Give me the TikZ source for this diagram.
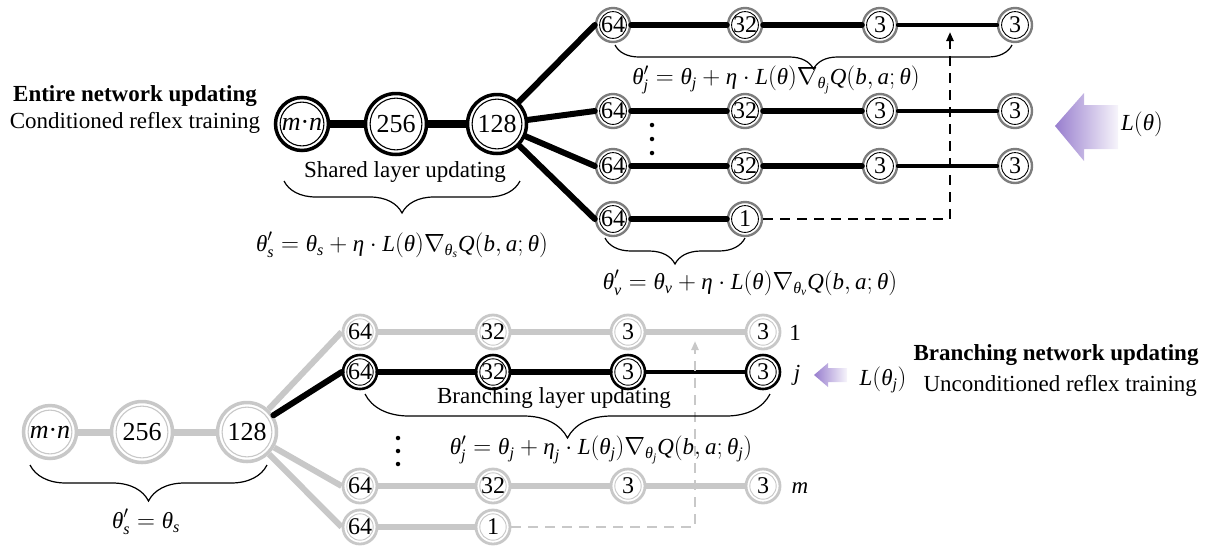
\documentclass[tikz,border=0pt]{standalone}
\usepackage{amsmath}
\usepackage{fontspec}
\setmainfont{Liberation Serif}
\usetikzlibrary{arrows.meta,decorations.pathreplacing,calc}

\definecolor{lgray}{RGB}{200,200,200}
\definecolor{mgray}{RGB}{125,125,125}
\definecolor{lilac}{RGB}{152,126,206}

% italic text letters inside formulas
\newcommand{\mi}[1]{\text{\itshape #1}}
\newcommand{\fsz}{\fontsize{23}{27}\selectfont}
\newcommand{\ffsz}{\fontsize{23}{27}\selectfont}
\newcommand{\nfsz}{\fontsize{24}{28}\selectfont}
\newcommand{\bfsz}{\fontsize{26}{30}\selectfont}

\tikzset{
  cn/.style={circle, inner sep=0pt, fill=white, minimum size=#1, font=\nfsz},
  inring/.style n args={3}{path picture={
      \draw[#1, line width=#2]
        let \p1=($(path picture bounding box.north)-(path picture bounding box.center)$)
        in (path picture bounding box.center) circle[radius=\y1-#3];}},
  tops/.style={cn=#1, font=\bfsz, draw=black, line width=3.5pt, inring={black}{1.1pt}{4.6pt}},
  topb/.style={cn=34, draw=mgray, line width=2.4pt, inring={black}{0.9pt}{3.6pt}},
  bots/.style={cn=#1, font=\bfsz, draw=lgray, line width=3.5pt, inring={lgray}{1.1pt}{4.6pt}},
  botb/.style={cn=34, draw=lgray, line width=2.8pt, inring={lgray}{0.9pt}{3.8pt}},
  botj/.style={cn=34, draw=black, line width=2.6pt, inring={black}{0.9pt}{3.8pt}},
  shedge/.style={line width=7.5pt},
  bedge/.style={line width=6pt, line cap=round},
  tedge/.style={line width=4.8pt, line cap=round},
  gedge/.style={line width=6pt, lgray},
  gshedge/.style={line width=7pt, lgray},
  dashline/.style={line width=2.8pt, dash pattern=on 10pt off 7pt,
                   -{Triangle[length=9pt,width=7pt]}},
  brc/.style={line width=1.2pt, decorate, decoration={brace, amplitude=#1}},
  dotn/.style={circle, fill=black, inner sep=0pt, minimum size=4.5pt},
  formula/.style={font=\ffsz},
}

\begin{document}
\begin{tikzpicture}[x=1pt, y=-1pt, every node/.style={font=\fsz}]
\useasboundingbox (0,0) rectangle (1209,547);

% ---------------- entire network updating ----------------
\node[font=\fsz\bfseries] (ttl1) at (135,96) {Entire network updating};
\node (sub1) at (135,123) {Conditioned reflex training};

\node[tops=53] (Tmn)  at (302,124) {\textit{m}·\textit{n}};
\node[tops=61] (T256) at (396,124) {256};
\node[tops=59] (T128) at (497,124) {128};

\foreach \r/\y in {1/25, 2/111, 3/166}{
  \node[topb] (T\r a) at (613,\y) {64};
  \node[topb] (T\r b) at (745,\y) {32};
  \node[topb] (T\r c) at (880,\y) {3};
  \node[topb] (T\r d) at (1015,\y) {3};
}
\node[topb] (T4a) at (613,219) {64};
\node[topb] (T4b) at (745,219) {1};

\draw[shedge] (Tmn) -- (T256) (T256) -- (T128);
\foreach \r in {1,2,3,4}{ \draw[bedge] (T128) -- (T\r a.west); }
\foreach \r in {1,2,3}{
  \draw[bedge] (T\r a) -- (T\r b) (T\r b) -- (T\r c);
  \draw[tedge] (T\r c) -- (T\r d);
}
\draw[bedge] (T4a) -- (T4b);

\coordinate (Tk) at (950,219);
\coordinate (Tt) at (950,32);
\draw[dashline] (T4b.east) -- (Tk) -- (Tt);

\node[dotn] (td1) at (652,125) {};
\node[dotn] (td2) at (652,139) {};
\node[dotn] (td3) at (652,153) {};

\node (shl) at (405,172) {Shared layer updating};
\draw[brc=32pt] (520,181) -- (284,181);
\node[formula] (f1) at (402,245)
  {$\mi{θ}^{\prime}_{\mi{s}}=\mi{θ}_{\mi{s}}+\mi{η}\cdot\mi{L}(\mi{θ})\nabla_{\mi{θ}_{\mi{s}}}\mi{Q}(\mi{b},\mi{a};\mi{θ})$};

\draw[brc=24pt] (1012,45) -- (615,45);
\node[formula] (f2) at (776,80)
  {$\mi{θ}^{\prime}_{\mi{j}}=\mi{θ}_{\mi{j}}+\mi{η}\cdot\mi{L}(\mi{θ})\nabla_{\mi{θ}_{\mi{j}}}\mi{Q}(\mi{b},\mi{a};\mi{θ})$};

\draw[brc=26pt] (745,238) -- (605,238);
\node[formula] (f3) at (750,283)
  {$\mi{θ}^{\prime}_{\mi{v}}=\mi{θ}_{\mi{v}}+\mi{η}\cdot\mi{L}(\mi{θ})\nabla_{\mi{θ}_{\mi{v}}}\mi{Q}(\mi{b},\mi{a};\mi{θ})$};

\shade[left color=lilac, right color=lilac!8]
  (1055,126) -- (1084,93) -- (1084,105) -- (1118,105) -- (1118,149)
  -- (1084,149) -- (1084,161) -- cycle;
\node[formula] (lt) at (1142,124) {$\mi{L}(\mi{θ})$};

% ---------------- branching network updating ----------------
\node[bots=53] (Bmn)  at (50,432)  {\textit{m}·\textit{n}};
\node[bots=61] (B256) at (142,432) {256};
\node[bots=59] (B128) at (247,432) {128};

\foreach \r/\y in {1/332, m/486}{
  \node[botb] (B\r a) at (360,\y) {64};
  \node[botb] (B\r b) at (493,\y) {32};
  \node[botb] (B\r c) at (628,\y) {3};
  \node[botb] (B\r d) at (763,\y) {3};
}
\node[botj] (Bja) at (360,372) {64};
\node[botj] (Bjb) at (493,372) {32};
\node[botj] (Bjc) at (628,372) {3};
\node[botj] (Bjd) at (763,372) {3};
\node[botb] (B0a) at (360,527) {64};
\node[botb] (B0b) at (493,527) {1};

\draw[gshedge] (Bmn) -- (B256) (B256) -- (B128);
\foreach \r in {1,m,0}{ \draw[gedge] (B128) -- (B\r a.west); }
\foreach \r in {1,m}{
  \draw[gedge] (B\r a) -- (B\r b) (B\r b) -- (B\r c) (B\r c) -- (B\r d);
}
\draw[gedge] (B0a) -- (B0b);
\draw[bedge] (B128) -- (Bja.west);
\draw[bedge] (Bja) -- (Bjb) (Bjb) -- (Bjc);
\draw[tedge] (Bjc) -- (Bjd);

\coordinate (Bk) at (695,527);
\coordinate (Bt) at (695,341);
\draw[dashline, lgray] (B0b.east) -- (Bk) -- (Bt);

\node (r1) at (795,333) {1};
\node (rj) at (797,375) {\itshape j};
\node (rm) at (800,488) {\itshape m};

\node[dotn] (bd1) at (398,438) {};
\node[dotn] (bd2) at (398,451) {};
\node[dotn] (bd3) at (398,464) {};

\draw[brc=36pt] (267,465) -- (30,465);
\node[formula] (f5) at (146,522) {$\mi{θ}^{\prime}_{\mi{s}}=\mi{θ}_{\mi{s}}$};

\node (bl) at (554,398) {Branching layer updating};
\draw[brc=44pt] (770,394) -- (365,394);
\node[formula] (f4) at (601,450)
  {$\mi{θ}^{\prime}_{\mi{j}}=\mi{θ}_{\mi{j}}+\mi{η}_{\mi{j}}\cdot\mi{L}(\mi{θ}_{\mi{j}})\nabla_{\mi{θ}_{\mi{j}}}\mi{Q}(\mi{b},\mi{a};\mi{θ}_{\mi{j}})$};

\shade[left color=lilac, right color=lilac!8]
  (814,375) -- (828,363) -- (828,368) -- (847,368) -- (847,382)
  -- (828,382) -- (828,387) -- cycle;

\node[font=\fsz\bfseries] (ttl2) at (1056,355) {Branching network updating};
\node[formula] (ltj) at (883,380) {$\mi{L}(\mi{θ}_{\mi{j}})$};
\node[anchor=west] (sub2) at (920,386) {Unconditioned reflex training};
\end{tikzpicture}
\end{document}
